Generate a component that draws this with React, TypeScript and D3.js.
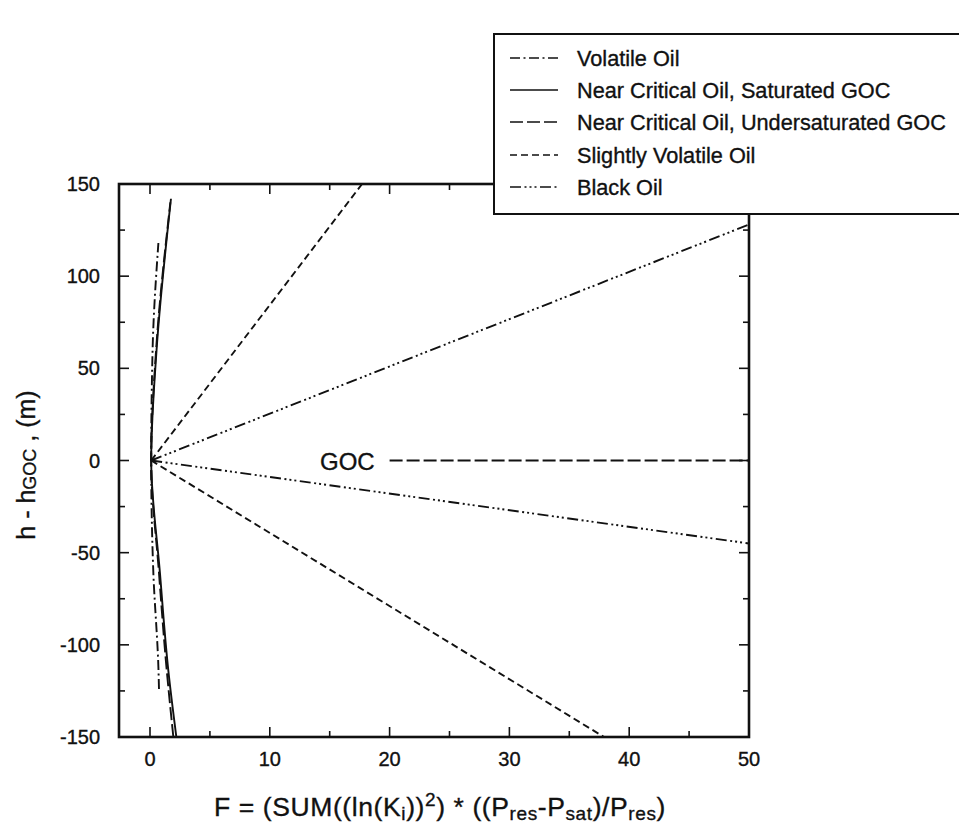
import React from 'react';
import * as d3 from 'd3';

// ---------- data ----------
const xTicks = [0, 10, 20, 30, 40, 50];
const xMinorTicks = [5, 15, 25, 35, 45];
const yTicks = [-150, -100, -50, 0, 50, 100, 150];
const yMinorTicks = [-125, -75, -25, 25, 75, 125];

type P = { f: number; h: number };

const volatileOil: P[] = [
  { f: 0.75, h: -124 }, { f: 0.7, h: -112 }, { f: 0.28, h: -61 }, { f: 0.1, h: 0 },
  { f: 0.22, h: 61 }, { f: 0.7, h: 118 },
];
const nearCriticalSaturated: P[] = [
  { f: 2.2, h: -150 }, { f: 1.53, h: -114 }, { f: 0.83, h: -61 }, { f: 0.1, h: 0 },
  { f: 0.56, h: 61 }, { f: 1.75, h: 142 },
];
const nearCriticalUndersaturated: P[] = [
  { f: 1.95, h: -150 }, { f: 1.4, h: -114 }, { f: 0.75, h: -61 }, { f: 0.1, h: 0 },
  { f: 0.52, h: 61 }, { f: 1.7, h: 140 },
];
const gocMarker: P[] = [{ f: 20, h: 0 }, { f: 50, h: 0 }];
const slightlyVolatileUpper: P[] = [{ f: 0.1, h: 0 }, { f: 17.7, h: 150 }];
const slightlyVolatileLower: P[] = [{ f: 0.1, h: 0 }, { f: 37.9, h: -150 }];
const blackOilUpper: P[] = [{ f: 0.1, h: 0 }, { f: 50, h: 128 }];
const blackOilLower: P[] = [{ f: 0.1, h: 0 }, { f: 50, h: -45 }];

const legendNames = [
  'Volatile Oil',
  'Near Critical Oil, Saturated GOC',
  'Near Critical Oil, Undersaturated GOC',
  'Slightly Volatile Oil',
  'Black Oil',
];

// ---------- styles ----------
const dashes = ['10 3.5 2 3.5', '', '13 4', '7 4', '11 3.5 2 3 2 3 2 3.5'];

const W = 959;
const H = 831;
const left = 119, right = 749, top = 184, bottom = 737;
const FONT = "'Liberation Sans', Arial, Helvetica, sans-serif";
const TEXT_STROKE = 0.35;

export default function App() {
  const x = d3.scaleLinear().domain([0, 50]).range([150, right]);
  const y = d3.scaleLinear().domain([-150, 150]).range([bottom, top]);
  const line = d3.line<P>().x((d) => x(d.f)).y((d) => y(d.h)).curve(d3.curveMonotoneY);

  const series: { data: P[]; style: number }[] = [
    { data: volatileOil, style: 0 },
    { data: nearCriticalSaturated, style: 1 },
    { data: nearCriticalUndersaturated, style: 2 },
    { data: gocMarker, style: 2 },
    { data: slightlyVolatileUpper, style: 3 },
    { data: slightlyVolatileLower, style: 3 },
    { data: blackOilUpper, style: 4 },
    { data: blackOilLower, style: 4 },
  ];

  const majorLen = 10, minorLen = 6;

  const legendX = 494, legendY = 34, legendW = 480, legendH = 180;
  const entryY = [58, 90, 122, 155, 187];

  const txt = { fill: '#111', stroke: '#111', strokeWidth: TEXT_STROKE };

  return (
    <svg width={W} height={H} style={{ position: 'absolute', left: 0, top: 0, background: '#fff' }}
      fontFamily={FONT}>
      <defs>
        <clipPath id="plotclip">
          <rect x={left} y={top} width={right - left} height={bottom - top} />
        </clipPath>
      </defs>
      <rect x={0} y={0} width={W} height={H} fill="#fff" />

      {/* series */}
      <g clipPath="url(#plotclip)" fill="none" stroke="#111" strokeWidth={1.9} strokeLinejoin="round">
        {series.map((s, i) => (
          <path key={i} d={line(s.data) || ''} strokeDasharray={dashes[s.style] || undefined} />
        ))}
      </g>

      {/* GOC label */}
      <text x={320} y={y(0) + 9} fontSize={24} {...txt}>GOC</text>

      {/* frame */}
      <rect x={left} y={top} width={right - left} height={bottom - top} fill="none" stroke="#111" strokeWidth={2.6} />

      {/* ticks */}
      <g stroke="#111" strokeWidth={1.6}>
        {xTicks.map((t) => (
          <g key={'xt' + t}>
            <line x1={x(t)} x2={x(t)} y1={bottom} y2={bottom - majorLen} />
            <line x1={x(t)} x2={x(t)} y1={top} y2={top + majorLen} />
          </g>
        ))}
        {xMinorTicks.map((t) => (
          <g key={'xm' + t}>
            <line x1={x(t)} x2={x(t)} y1={bottom} y2={bottom - minorLen} />
            <line x1={x(t)} x2={x(t)} y1={top} y2={top + minorLen} />
          </g>
        ))}
        {yTicks.map((t) => (
          <g key={'yt' + t}>
            <line x1={left} x2={left + majorLen} y1={y(t)} y2={y(t)} />
            <line x1={right} x2={right - majorLen} y1={y(t)} y2={y(t)} />
          </g>
        ))}
        {yMinorTicks.map((t) => (
          <g key={'ym' + t}>
            <line x1={left} x2={left + minorLen} y1={y(t)} y2={y(t)} />
            <line x1={right} x2={right - minorLen} y1={y(t)} y2={y(t)} />
          </g>
        ))}
      </g>

      {/* tick labels */}
      <g fontSize={20} {...txt}>
        {xTicks.map((t) => (
          <text key={'xl' + t} x={x(t)} y={bottom + 29} textAnchor="middle">{t}</text>
        ))}
        {yTicks.map((t) => (
          <text key={'yl' + t} x={100} y={y(t) + 7} textAnchor="end">{t}</text>
        ))}
      </g>

      {/* axis labels */}
      <text transform={`translate(35, 465) rotate(-90)`} textAnchor="middle" fontSize={25} {...txt}>
        h - h<tspan fontSize={18} dy={1}>GOC</tspan><tspan dy={-1}> , (m)</tspan>
      </text>
      <text x={440} y={816} textAnchor="middle" fontSize={26.5} letterSpacing={0.6} {...txt}>
        F = (SUM((ln(K<tspan fontSize={19} dy={4}>i</tspan><tspan dy={-4}>))</tspan>
        <tspan fontSize={19} dy={-10}>2</tspan><tspan dy={10}>) * ((P</tspan>
        <tspan fontSize={19} dy={4}>res</tspan><tspan dy={-4}>-P</tspan>
        <tspan fontSize={19} dy={4}>sat</tspan><tspan dy={-4}>)/P</tspan>
        <tspan fontSize={19} dy={4}>res</tspan><tspan dy={-4}>)</tspan>
      </text>

      {/* legend */}
      <rect x={legendX} y={legendY} width={legendW} height={legendH} fill="#fff" stroke="#111" strokeWidth={2} />
      {legendNames.map((name, i) => {
        const ly = entryY[i];
        return (
          <g key={name}>
            <line x1={510} x2={558} y1={ly} y2={ly} stroke="#111" strokeWidth={1.6}
              strokeDasharray={dashes[i] || undefined} />
            <text x={577} y={ly + 7.8} fontSize={21.7} {...txt}>{name}</text>
          </g>
        );
      })}
    </svg>
  );
}
